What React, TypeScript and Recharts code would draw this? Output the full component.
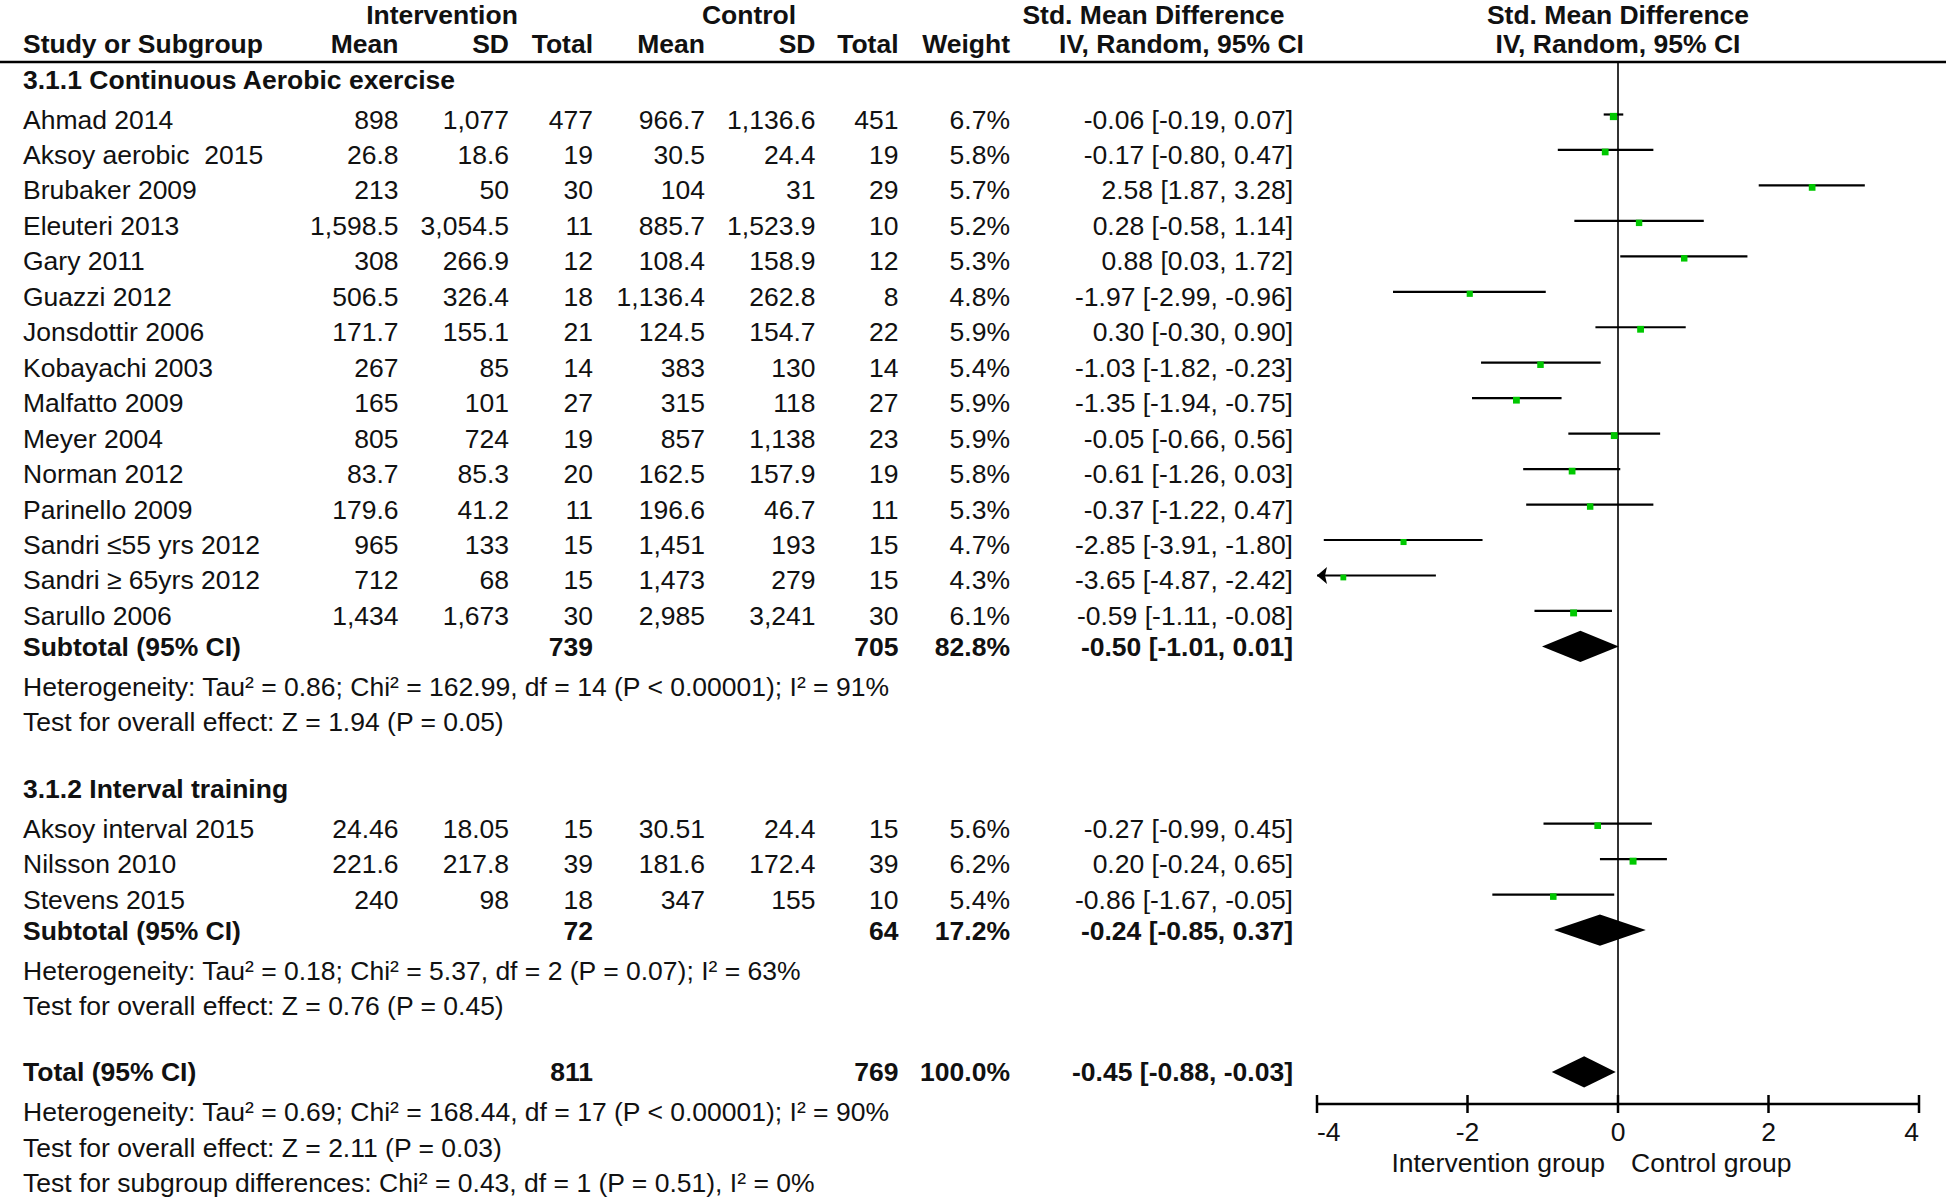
import React from 'react';
import { ComposedChart, Scatter, XAxis, YAxis, ErrorBar, ReferenceLine } from 'recharts';

// 3.1.1 Continuous aerobic exercise
const aerobicStudies = [
  'Ahmad 2014', 'Aksoy aerobic  2015', 'Brubaker 2009', 'Eleuteri 2013', 'Gary 2011',
  'Guazzi 2012', 'Jonsdottir 2006', 'Kobayachi 2003', 'Malfatto 2009', 'Meyer 2004',
  'Norman 2012', 'Parinello 2009', 'Sandri \u226455 yrs 2012', 'Sandri \u2265 65yrs 2012', 'Sarullo 2006',
];
const aerobicIntMean = [898, 26.8, 213, 1598.5, 308, 506.5, 171.7, 267, 165, 805, 83.7, 179.6, 965, 712, 1434];
const aerobicIntSD = [1077, 18.6, 50, 3054.5, 266.9, 326.4, 155.1, 85, 101, 724, 85.3, 41.2, 133, 68, 1673];
const aerobicIntN = [477, 19, 30, 11, 12, 18, 21, 14, 27, 19, 20, 11, 15, 15, 30];
const aerobicCtlMean = [966.7, 30.5, 104, 885.7, 108.4, 1136.4, 124.5, 383, 315, 857, 162.5, 196.6, 1451, 1473, 2985];
const aerobicCtlSD = [1136.6, 24.4, 31, 1523.9, 158.9, 262.8, 154.7, 130, 118, 1138, 157.9, 46.7, 193, 279, 3241];
const aerobicCtlN = [451, 19, 29, 10, 12, 8, 22, 14, 27, 23, 19, 11, 15, 15, 30];
const aerobicWeight = [6.7, 5.8, 5.7, 5.2, 5.3, 4.8, 5.9, 5.4, 5.9, 5.9, 5.8, 5.3, 4.7, 4.3, 6.1];
const aerobicSmd = [-0.06, -0.17, 2.58, 0.28, 0.88, -1.97, 0.30, -1.03, -1.35, -0.05, -0.61, -0.37, -2.85, -3.65, -0.59];
const aerobicLow = [-0.19, -0.80, 1.87, -0.58, 0.03, -2.99, -0.30, -1.82, -1.94, -0.66, -1.26, -1.22, -3.91, -4.87, -1.11];
const aerobicHigh = [0.07, 0.47, 3.28, 1.14, 1.72, -0.96, 0.90, -0.23, -0.75, 0.56, 0.03, 0.47, -1.80, -2.42, -0.08];

// 3.1.2 Interval training
const intervalStudies = ['Aksoy interval 2015', 'Nilsson 2010', 'Stevens 2015'];
const intervalIntMean = [24.46, 221.6, 240];
const intervalIntSD = [18.05, 217.8, 98];
const intervalIntN = [15, 39, 18];
const intervalCtlMean = [30.51, 181.6, 347];
const intervalCtlSD = [24.4, 172.4, 155];
const intervalCtlN = [15, 39, 10];
const intervalWeight = [5.6, 6.2, 5.4];
const intervalSmd = [-0.27, 0.20, -0.86];
const intervalLow = [-0.99, -0.24, -1.67];
const intervalHigh = [0.45, 0.65, -0.05];

// subtotals (aerobic, interval) and overall total
const subtotalIntN = [739, 72];
const subtotalCtlN = [705, 64];
const subtotalWeight = [82.8, 17.2];
const subtotalSmd = [-0.50, -0.24];
const subtotalLow = [-1.01, -0.85];
const subtotalHigh = [0.01, 0.37];
const totalIntN = 811;
const totalCtlN = 769;
const totalWeight = 100.0;
const totalSmd = -0.45;
const totalLow = -0.88;
const totalHigh = -0.03;

const groupHeadings = ['3.1.1 Continuous Aerobic exercise', '3.1.2 Interval training'];
const groupHeterogeneity = [
  'Heterogeneity: Tau\u00b2 = 0.86; Chi\u00b2 = 162.99, df = 14 (P < 0.00001); I\u00b2 = 91%',
  'Heterogeneity: Tau\u00b2 = 0.18; Chi\u00b2 = 5.37, df = 2 (P = 0.07); I\u00b2 = 63%',
];
const groupOverall = ['Test for overall effect: Z = 1.94 (P = 0.05)', 'Test for overall effect: Z = 0.76 (P = 0.45)'];
const totalNotes = [
  'Heterogeneity: Tau\u00b2 = 0.69; Chi\u00b2 = 168.44, df = 17 (P < 0.00001); I\u00b2 = 90%',
  'Test for overall effect: Z = 2.11 (P = 0.03)',
  'Test for subgroup differences: Chi\u00b2 = 0.43, df = 1 (P = 0.51), I\u00b2 = 0%',
];

const xTicks = [-4, -2, 0, 2, 4];
const favourLabels = ['Intervention group', 'Control group'];

// layout
const FONT = '"Liberation Sans", Arial, Helvetica, sans-serif';
const FS = 26.5;
const INK = '#111';
const GREEN = '#00c800';
const W = 1946;
const H = 1200;
const PLOT_LEFT = 1317;
const PLOT_RIGHT = 1919;
const PLOT_TOP = 62;
const PLOT_BOTTOM = 1104;
const XAXIS_H = 40;
const ROW0_PX = 114.5;
const ROW_PX = 35.46;
const Y_MIN = (PLOT_TOP - ROW0_PX) / ROW_PX;
const Y_MAX = (PLOT_BOTTOM - ROW0_PX) / ROW_PX;
const X_MIN = xTicks[0];
const X_MAX = xTicks[xTicks.length - 1];
const DIAMOND_H = 0.44;
const rowPx = (r: number) => ROW0_PX + r * ROW_PX;
const zeroPx = PLOT_LEFT + ((0 - X_MIN) / (X_MAX - X_MIN)) * (PLOT_RIGHT - PLOT_LEFT);

// right edges of the numeric columns
const colX = [398.5, 509, 593, 705, 815.5, 898.5, 1010, 1293];

const num = (v: number) => v.toLocaleString('en-US', { maximumFractionDigits: 2 });
const pct = (v: number) => `${v.toFixed(1)}%`;
const ci = (m: number, lo: number, hi: number) => `${m.toFixed(2)} [${lo.toFixed(2)}, ${hi.toFixed(2)}]`;

type TextRow = { row: number; bold?: boolean; name: string; cells?: string[] };

const groups = [
  {
    start: 0, names: aerobicStudies, iM: aerobicIntMean, iS: aerobicIntSD, iN: aerobicIntN,
    cM: aerobicCtlMean, cS: aerobicCtlSD, cN: aerobicCtlN, w: aerobicWeight,
    smd: aerobicSmd, lo: aerobicLow, hi: aerobicHigh,
  },
  {
    start: 20, names: intervalStudies, iM: intervalIntMean, iS: intervalIntSD, iN: intervalIntN,
    cM: intervalCtlMean, cS: intervalCtlSD, cN: intervalCtlN, w: intervalWeight,
    smd: intervalSmd, lo: intervalLow, hi: intervalHigh,
  },
];

const textRows: TextRow[] = [];
const studyPoints: any[] = [];
const diamonds: { row: number; smd: number; lo: number; hi: number }[] = [];

groups.forEach((g, gi) => {
  textRows.push({ row: g.start - 1, bold: true, name: groupHeadings[gi] });
  g.names.forEach((name, i) => {
    const row = g.start + i;
    textRows.push({
      row, name,
      cells: [num(g.iM[i]), num(g.iS[i]), String(g.iN[i]), num(g.cM[i]), num(g.cS[i]), String(g.cN[i]), pct(g.w[i]), ci(g.smd[i], g.lo[i], g.hi[i])],
    });
    studyPoints.push({
      x: g.smd[i], y: row, w: g.w[i],
      err: [g.smd[i] - Math.max(g.lo[i], X_MIN), Math.min(g.hi[i], X_MAX) - g.smd[i]],
      clipped: g.lo[i] < X_MIN,
    });
  });
  const sub = g.start + g.names.length;
  textRows.push({
    row: sub, bold: true, name: 'Subtotal (95% CI)',
    cells: ['', '', String(subtotalIntN[gi]), '', '', String(subtotalCtlN[gi]), pct(subtotalWeight[gi]), ci(subtotalSmd[gi], subtotalLow[gi], subtotalHigh[gi])],
  });
  diamonds.push({ row: sub, smd: subtotalSmd[gi], lo: subtotalLow[gi], hi: subtotalHigh[gi] });
  textRows.push({ row: sub + 1, name: groupHeterogeneity[gi] });
  textRows.push({ row: sub + 2, name: groupOverall[gi] });
});

const TOTAL_ROW = 27;
textRows.push({
  row: TOTAL_ROW, bold: true, name: 'Total (95% CI)',
  cells: ['', '', String(totalIntN), '', '', String(totalCtlN), pct(totalWeight), ci(totalSmd, totalLow, totalHigh)],
});
diamonds.push({ row: TOTAL_ROW, smd: totalSmd, lo: totalLow, hi: totalHigh });
totalNotes.forEach((t, i) => textRows.push({ row: TOTAL_ROW + 1 + i, name: t }));

const arrowPoints = studyPoints.filter(p => p.clipped).map(p => ({ x: X_MIN, y: p.y }));

const Square = (props: any) => {
  const { cx, cy, payload } = props;
  const s = 2.8 * Math.sqrt(payload.w);
  return <rect x={cx - s / 2} y={cy + 2 - s / 2} width={s} height={s} fill={GREEN} />;
};

const Arrow = (props: any) => {
  const { cx, cy } = props;
  return <polygon points={`${cx},${cy} ${cx + 10},${cy - 8.5} ${cx + 8},${cy} ${cx + 10},${cy + 8.5}`} fill="#000" />;
};

const DiamondFill = (props: any) => (
  <polygon points={props.points.map((p: any) => `${p.x},${p.y}`).join(' ')} fill="#000" />
);

const AxisTick = (props: any) => {
  const { x, y, payload, index } = props;
  const anchor = index === 0 ? 'start' : index === xTicks.length - 1 ? 'end' : 'middle';
  return (
    <g>
      <line x1={x} x2={x} y1={y - 9} y2={y + 9} stroke="#000" strokeWidth={2.5} />
      <text x={x} y={y + 37} textAnchor={anchor} fontSize={FS} fontFamily={FONT} fill={INK}>{payload.value}</text>
    </g>
  );
};

const T = ({ x, y, anchor = 'start', bold, children }: any) => (
  <text x={x} y={y} textAnchor={anchor} fontSize={FS} fontFamily={FONT} fontWeight={bold ? 'bold' : 'normal'} fill={INK} style={{ whiteSpace: 'pre' }}>
    {children}
  </text>
);

export default function App() {
  const baseline = (r: TextRow) => rowPx(r.row) + (r.bold ? 9.5 : 14);
  const headTop = 24;
  const headBottom = rowPx(-2) + 9.5;
  const leftHead = ['Mean', 'SD', 'Total', 'Mean', 'SD', 'Total', 'Weight'];

  return (
    <div style={{ position: 'absolute', left: 0, top: 0, width: W, height: H, background: '#fff' }}>
      <ComposedChart
        width={W}
        height={H}
        margin={{ top: PLOT_TOP, right: W - PLOT_RIGHT, bottom: H - PLOT_BOTTOM - XAXIS_H, left: PLOT_LEFT }}
      >
        <XAxis
          type="number"
          dataKey="x"
          domain={[X_MIN, X_MAX]}
          ticks={xTicks}
          interval={0}
          allowDataOverflow
          height={XAXIS_H}
          tickSize={0}
          tickMargin={0}
          tickLine={false}
          axisLine={{ stroke: '#000', strokeWidth: 2.5 }}
          tick={<AxisTick />}
        />
        <YAxis type="number" dataKey="y" domain={[Y_MIN, Y_MAX]} reversed allowDataOverflow hide width={0} />
        <ReferenceLine x={0} stroke="#333" strokeWidth={2} />
        {diamonds.map((d, i) => (
          <Scatter
            key={`d${i}`}
            data={[
              { x: d.lo, y: d.row },
              { x: d.smd, y: d.row - DIAMOND_H },
              { x: d.hi, y: d.row },
              { x: d.smd, y: d.row + DIAMOND_H },
            ]}
            line={(p: any) => <DiamondFill {...p} />}
            lineType="joint"
            shape={() => <g />}
            isAnimationActive={false}
          />
        ))}
        <Scatter data={studyPoints} shape={<Square />} isAnimationActive={false}>
          <ErrorBar dataKey="err" direction="x" width={0} stroke="#000" strokeWidth={2.2} isAnimationActive={false} />
        </Scatter>
        <Scatter data={arrowPoints} shape={<Arrow />} isAnimationActive={false} />
      </ComposedChart>

      <svg width={W} height={H} style={{ position: 'absolute', left: 0, top: 0, pointerEvents: 'none' }}>
        <line x1={0} x2={W} y1={PLOT_TOP} y2={PLOT_TOP} stroke="#000" strokeWidth={2.5} />

        <T x={442} y={headTop} anchor="middle" bold>Intervention</T>
        <T x={749} y={headTop} anchor="middle" bold>Control</T>
        <T x={1153.5} y={headTop} anchor="middle" bold>Std. Mean Difference</T>
        <T x={zeroPx} y={headTop} anchor="middle" bold>Std. Mean Difference</T>

        <T x={23} y={headBottom} bold>Study or Subgroup</T>
        {leftHead.map((h, i) => (
          <T key={h + i} x={colX[i]} y={headBottom} anchor="end" bold>{h}</T>
        ))}
        <T x={1181.5} y={headBottom} anchor="middle" bold>IV, Random, 95% CI</T>
        <T x={zeroPx} y={headBottom} anchor="middle" bold>IV, Random, 95% CI</T>

        {textRows.map((r, i) => (
          <g key={i}>
            <T x={23} y={baseline(r)} bold={r.bold}>{r.name}</T>
            {r.cells && r.cells.map((c, j) => c ? (
              <T key={j} x={colX[j]} y={baseline(r)} anchor="end" bold={r.bold}>{c}</T>
            ) : null)}
          </g>
        ))}

        <T x={zeroPx - 13} y={PLOT_BOTTOM + 68} anchor="end">{favourLabels[0]}</T>
        <T x={zeroPx + 13} y={PLOT_BOTTOM + 68}>{favourLabels[1]}</T>
      </svg>
    </div>
  );
}
